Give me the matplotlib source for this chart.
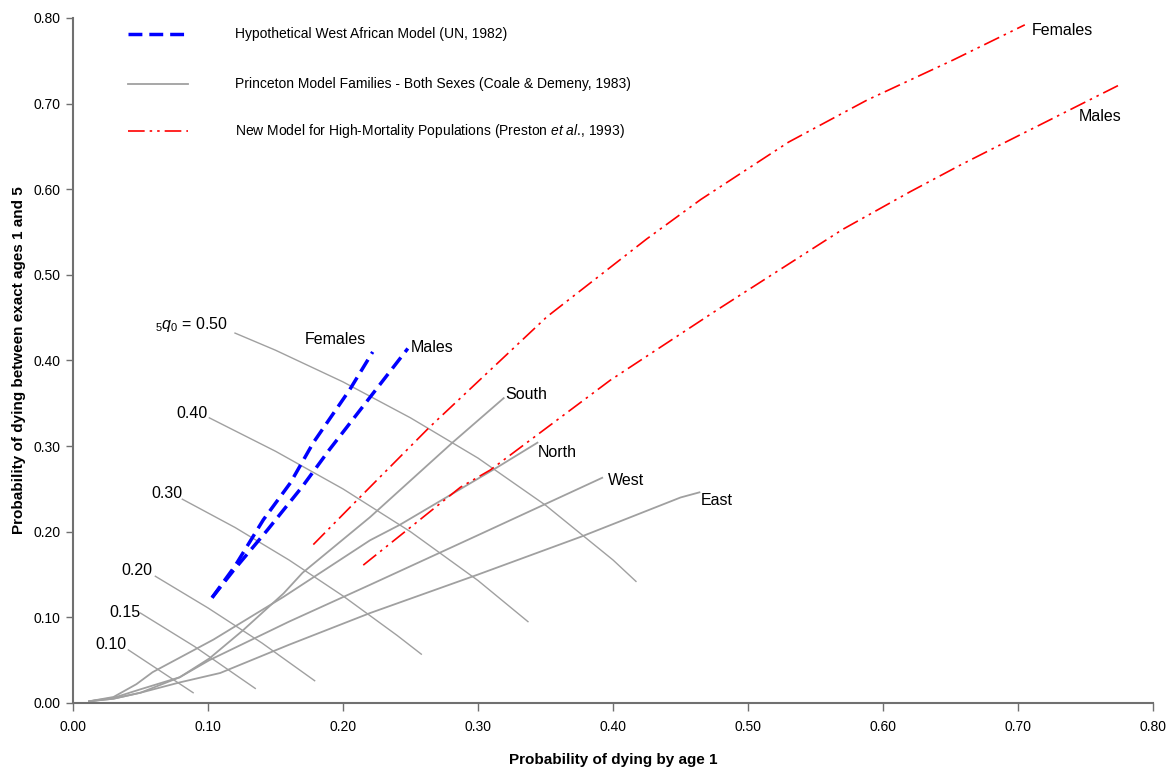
import matplotlib
matplotlib.use("Agg")
import matplotlib.pyplot as plt
from matplotlib.lines import Line2D

plt.rcParams['font.family'] = ['Liberation Sans', 'DejaVu Sans']
plt.rcParams['mathtext.fontset'] = 'custom'
plt.rcParams['mathtext.rm'] = 'Liberation Sans'
plt.rcParams['mathtext.it'] = 'Liberation Sans:italic'

# ---- Data ----
# Hypothetical West African Model (UN, 1982)
wa_fem_x = [0.103, 0.120, 0.141, 0.161, 0.178, 0.205, 0.222]
wa_fem_y = [0.123, 0.160, 0.214, 0.257, 0.304, 0.366, 0.410]
wa_mal_x = [0.103, 0.119, 0.144, 0.170, 0.190, 0.220, 0.248]
wa_mal_y = [0.123, 0.155, 0.202, 0.253, 0.296, 0.357, 0.414]

# Princeton model families (Coale & Demeny, 1983)
south_x = [0.012, 0.030, 0.050, 0.079, 0.101, 0.126, 0.156, 0.170, 0.220, 0.281, 0.319]
south_y = [0.002, 0.005, 0.012, 0.030, 0.052, 0.085, 0.128, 0.152, 0.217, 0.304, 0.356]
north_x = [0.012, 0.030, 0.047, 0.059, 0.104, 0.156, 0.220, 0.242, 0.314, 0.344]
north_y = [0.002, 0.007, 0.022, 0.036, 0.074, 0.124, 0.190, 0.208, 0.275, 0.304]
west_x = [0.012, 0.030, 0.050, 0.079, 0.101, 0.160, 0.220, 0.300, 0.392]
west_y = [0.002, 0.006, 0.016, 0.030, 0.050, 0.095, 0.138, 0.196, 0.263]
east_x = [0.012, 0.030, 0.050, 0.079, 0.109, 0.160, 0.220, 0.300, 0.376, 0.450, 0.464]
east_y = [0.002, 0.005, 0.012, 0.024, 0.035, 0.068, 0.105, 0.150, 0.194, 0.240, 0.246]

# Iso-lines of constant 5q0
iso_labels = ['0.50', '0.40', '0.30', '0.20', '0.15', '0.10']
iso50_x = [0.120, 0.150, 0.200, 0.250, 0.300, 0.350, 0.400, 0.417]
iso50_y = [0.432, 0.412, 0.375, 0.333, 0.286, 0.231, 0.167, 0.142]
iso40_x = [0.101, 0.150, 0.200, 0.250, 0.300, 0.337]
iso40_y = [0.333, 0.294, 0.250, 0.200, 0.143, 0.095]
iso30_x = [0.081, 0.120, 0.160, 0.200, 0.240, 0.258]
iso30_y = [0.238, 0.205, 0.167, 0.125, 0.079, 0.057]
iso20_x = [0.061, 0.100, 0.140, 0.179]
iso20_y = [0.148, 0.111, 0.070, 0.026]
iso15_x = [0.050, 0.090, 0.135]
iso15_y = [0.105, 0.066, 0.017]
iso10_x = [0.041, 0.065, 0.089]
iso10_y = [0.062, 0.037, 0.012]

# New Model for High-Mortality Populations (Preston et al., 1993)
hm_fem_x = [0.178, 0.213, 0.264, 0.351, 0.425, 0.465, 0.530, 0.588, 0.652, 0.705]
hm_fem_y = [0.185, 0.241, 0.322, 0.451, 0.542, 0.588, 0.655, 0.704, 0.751, 0.792]
hm_mal_x = [0.215, 0.287, 0.309, 0.398, 0.478, 0.570, 0.620, 0.657, 0.687, 0.774]
hm_mal_y = [0.161, 0.252, 0.272, 0.377, 0.460, 0.553, 0.597, 0.628, 0.652, 0.721]

ticks = [0.0, 0.1, 0.2, 0.3, 0.4, 0.5, 0.6, 0.7, 0.8]

# ---- Styles ----
GRAY = '#a0a0a0'
BLUE = '#0000ff'
RED = '#ff0000'
blue_ls = (0, (4, 2))
red_ls = (0, (10, 3, 1.5, 3, 1.5, 3))

fig = plt.figure(figsize=(11.66, 7.72), dpi=100)
ax = fig.add_axes([0.0626, 0.0894, 0.9263, 0.8873])

# iso-lines
iso_sets = [(iso50_x, iso50_y), (iso40_x, iso40_y), (iso30_x, iso30_y),
            (iso20_x, iso20_y), (iso15_x, iso15_y), (iso10_x, iso10_y)]
for xs, ys in iso_sets:
    ax.plot(xs, ys, color=GRAY, lw=1.0)

# families
for xs, ys in [(south_x, south_y), (north_x, north_y), (west_x, west_y), (east_x, east_y)]:
    ax.plot(xs, ys, color=GRAY, lw=1.3)

# high mortality model
ax.plot(hm_fem_x, hm_fem_y, color=RED, lw=1.2, linestyle=red_ls)
ax.plot(hm_mal_x, hm_mal_y, color=RED, lw=1.2, linestyle=red_ls)

# West African model
ax.plot(wa_fem_x, wa_fem_y, color=BLUE, lw=2.5, linestyle=blue_ls)
ax.plot(wa_mal_x, wa_mal_y, color=BLUE, lw=2.5, linestyle=blue_ls)

# labels
lab_fs = 11.5
iso_pos = [(0.115, 0.442), (0.100, 0.338), (0.081, 0.245), (0.059, 0.155), (0.050, 0.106), (0.040, 0.068)]
for i, (lab, (px, py)) in enumerate(zip(iso_labels, iso_pos)):
    txt = r'$_5q_0$ = ' + lab if i == 0 else lab
    ax.text(px, py, txt, ha='right', va='center', fontsize=lab_fs)

ax.text(0.320, 0.360, 'South', ha='left', va='center', fontsize=lab_fs)
ax.text(0.344, 0.293, 'North', ha='left', va='center', fontsize=lab_fs)
ax.text(0.396, 0.260, 'West', ha='left', va='center', fontsize=lab_fs)
ax.text(0.465, 0.237, 'East', ha='left', va='center', fontsize=lab_fs)
ax.text(0.172, 0.424, 'Females', ha='left', va='center', fontsize=lab_fs)
ax.text(0.250, 0.415, 'Males', ha='left', va='center', fontsize=lab_fs)
ax.text(0.710, 0.785, 'Females', ha='left', va='center', fontsize=lab_fs)
ax.text(0.745, 0.685, 'Males', ha='left', va='center', fontsize=lab_fs)

# axes
ax.set_xlim(0, 0.8)
ax.set_ylim(0, 0.8)
ax.set_xticks(ticks)
ax.set_yticks(ticks)
ax.set_xticklabels(['%.2f' % t for t in ticks], fontsize=10)
ax.set_yticklabels(['%.2f' % t for t in ticks], fontsize=10)
for s in ['top', 'right']:
    ax.spines[s].set_visible(False)
for s in ['left', 'bottom']:
    ax.spines[s].set_color('#707070')
    ax.spines[s].set_linewidth(1.5)
ax.tick_params(axis='x', direction='out', length=6, width=1, color='#707070', pad=6)
ax.tick_params(axis='y', direction='out', length=5, width=1, color='#707070', pad=4)
ax.set_xlabel('Probability of dying by age 1', fontsize=11, fontweight='bold', labelpad=14)
ax.set_ylabel('Probability of dying between exact ages 1 and 5', fontsize=11, fontweight='bold', labelpad=5)

# legend (manual)
def fy(py):
    return 1 - py / 772.0
def fx(px):
    return px / 1166.0
leg = [
    (34, BLUE, 2.5, blue_ls, 'Hypothetical West African Model (UN, 1982)'),
    (84, GRAY, 1.3, '-', 'Princeton Model Families - Both Sexes (Coale & Demeny, 1983)'),
    (131, RED, 1.2, red_ls, r'New Model for High-Mortality Populations (Preston $et\ al$., 1993)'),
]
for py, c, lw, ls, txt in leg:
    fig.add_artist(Line2D([fx(128), fx(188)], [fy(py), fy(py)], color=c, lw=lw, linestyle=ls))
    fig.text(fx(235), fy(py), txt, ha='left', va='center', fontsize=10)

fig.savefig('out.png', dpi=100)
